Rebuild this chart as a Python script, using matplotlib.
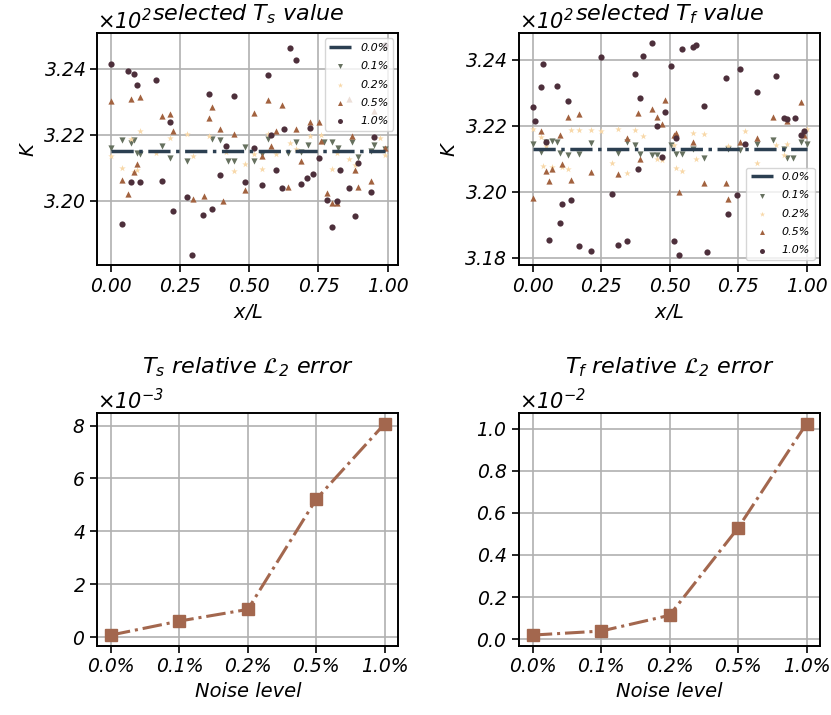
import matplotlib
matplotlib.use('Agg')
import matplotlib.pyplot as plt

plt.rcParams['font.family'] = ['DejaVu Sans']
plt.rcParams['font.style'] = 'italic'
plt.rcParams['mathtext.fontset'] = 'dejavusans'
plt.rcParams['mathtext.default'] = 'it'

# noise levels and errors
niveles = ["0.0%", "0.1%", "0.2%", "0.5%", "1.0%"]
err_Ts = [0.08e-3, 0.61e-3, 1.05e-3, 5.22e-3, 8.07e-3]
err_Tf = [0.019e-2, 0.038e-2, 0.113e-2, 0.528e-2, 1.024e-2]

# selected Ts (K), reference value without noise
Ts_ref_x = [0.0, 0.04, 0.104, 0.213, 0.295, 0.395, 0.486, 0.598, 0.688, 0.8, 0.892, 0.99]
Ts_ref_y = [321.51] * len(Ts_ref_x)

Ts_01_x = [0.0, 0.04, 0.072, 0.082, 0.093, 0.104, 0.183, 0.213, 0.276, 0.365, 0.395, 0.424, 0.446, 0.486,
           0.518, 0.547, 0.567, 0.639, 0.669, 0.688, 0.711, 0.77, 0.8, 0.82, 0.87, 0.892, 0.941, 0.952, 0.99]
Ts_01_y = [321.61, 321.83, 321.76, 321.84, 321.44, 321.43, 321.66, 321.31, 321.21, 321.88, 321.83, 321.21,
           321.21, 321.62, 321.20, 321.42, 321.86, 321.46, 321.79, 321.48, 321.69, 321.79, 321.79, 321.61,
           321.78, 321.32, 321.52, 321.70, 321.56]

Ts_02_x = [0.0, 0.04, 0.072, 0.082, 0.093, 0.104, 0.164, 0.213, 0.276, 0.295, 0.355, 0.416, 0.446, 0.486,
           0.518, 0.547, 0.567, 0.598, 0.648, 0.669, 0.719, 0.759, 0.8, 0.819, 0.861, 0.882, 0.971, 0.99]
Ts_02_y = [321.36, 320.99, 321.86, 320.88, 320.92, 322.10, 321.44, 321.91, 322.01, 321.36, 321.96, 321.48,
           320.90, 321.11, 321.42, 320.97, 322.03, 321.41, 321.76, 321.56, 321.96, 321.98, 320.97, 321.46,
           321.26, 321.08, 321.90, 321.38]

Ts_05_x = [0.0, 0.04, 0.061, 0.071, 0.082, 0.093, 0.104, 0.183, 0.213, 0.223, 0.295, 0.335, 0.355, 0.365,
           0.395, 0.406, 0.446, 0.486, 0.517, 0.547, 0.567, 0.578, 0.598, 0.618, 0.639, 0.669, 0.688, 0.719,
           0.751, 0.759, 0.781, 0.8, 0.819, 0.861, 0.87, 0.882, 0.892, 0.941, 0.952, 0.99]
Ts_05_y = [323.02, 320.62, 320.22, 323.07, 320.86, 321.11, 323.14, 322.56, 322.64, 322.12, 320.07, 320.16,
           322.52, 322.83, 322.18, 320.00, 322.03, 320.34, 322.66, 321.36, 323.04, 321.66, 322.11, 322.90,
           320.42, 322.16, 321.22, 322.40, 322.39, 321.81, 320.25, 319.93, 319.93, 323.09, 321.97, 320.92,
           320.42, 320.59, 322.73, 321.60]

Ts_10_x = [0.0, 0.04, 0.063, 0.071, 0.082, 0.093, 0.104, 0.164, 0.183, 0.213, 0.223, 0.276, 0.294, 0.334,
           0.354, 0.365, 0.395, 0.416, 0.446, 0.486, 0.518, 0.547, 0.567, 0.578, 0.596, 0.619, 0.627, 0.648,
           0.67, 0.687, 0.71, 0.719, 0.729, 0.751, 0.781, 0.8, 0.819, 0.829, 0.861, 0.882, 0.892, 0.941,
           0.952, 0.99]
Ts_10_y = [324.15, 319.30, 323.94, 320.56, 323.83, 323.49, 320.58, 323.67, 320.59, 322.39, 319.71, 320.11,
           318.36, 319.58, 323.22, 319.75, 320.77, 321.66, 323.17, 320.56, 321.60, 320.47, 323.81, 321.98,
           320.92, 320.38, 322.18, 324.61, 324.26, 320.50, 320.69, 322.19, 320.81, 321.31, 320.04, 319.21,
           319.99, 320.92, 320.38, 319.54, 321.16, 320.27, 321.93, 324.72]

# selected Tf (K)
Tf_ref_x = [0.0, 0.049, 0.1, 0.212, 0.313, 0.404, 0.505, 0.595, 0.706, 0.818, 0.918, 1.0]
Tf_ref_y = [321.29] * len(Tf_ref_x)

Tf_01_x = [0.0, 0.029, 0.049, 0.069, 0.09, 0.1, 0.13, 0.17, 0.212, 0.313, 0.343, 0.373, 0.393, 0.434, 0.454,
           0.505, 0.524, 0.545, 0.584, 0.625, 0.715, 0.757, 0.818, 0.878, 0.918, 0.928, 0.949, 0.979, 1.0]
Tf_01_y = [321.46, 321.21, 321.50, 321.54, 321.50, 321.17, 321.11, 321.14, 321.49, 321.19, 321.52, 321.41,
           321.16, 321.11, 321.11, 321.41, 321.16, 321.16, 321.29, 321.03, 321.31, 321.26, 321.46, 321.56,
           321.31, 321.03, 321.03, 321.52, 321.46]

Tf_02_x = [0.0, 0.029, 0.039, 0.049, 0.069, 0.108, 0.13, 0.14, 0.17, 0.212, 0.251, 0.291, 0.313, 0.343,
           0.373, 0.404, 0.454, 0.473, 0.515, 0.524, 0.545, 0.584, 0.595, 0.625, 0.715, 0.777, 0.818, 0.888,
           0.918, 0.928, 1.0]
Tf_02_y = [321.92, 321.67, 320.79, 321.38, 320.76, 320.76, 320.68, 321.88, 321.89, 321.89, 321.84, 320.88,
           321.92, 320.58, 321.87, 321.68, 320.99, 320.96, 321.41, 320.72, 320.63, 321.80, 321.01, 321.75,
           321.39, 321.86, 320.89, 321.41, 321.11, 321.46, 321.92]

Tf_05_x = [0.0, 0.029, 0.049, 0.06, 0.069, 0.1, 0.108, 0.13, 0.14, 0.17, 0.212, 0.313, 0.343, 0.383, 0.393,
           0.434, 0.454, 0.473, 0.484, 0.515, 0.524, 0.534, 0.584, 0.625, 0.706, 0.715, 0.757, 0.818, 0.878,
           0.928, 0.979, 0.99]
Tf_05_y = [319.81, 321.84, 320.63, 320.32, 320.68, 321.72, 320.85, 322.28, 320.35, 322.35, 320.60, 320.55,
           321.62, 322.38, 321.01, 322.50, 322.28, 322.07, 322.78, 321.72, 321.80, 319.99, 321.52, 320.28,
           320.28, 319.79, 321.50, 321.62, 322.28, 322.14, 322.71, 321.72]

Tf_10_x = [0.0, 0.009, 0.029, 0.038, 0.049, 0.06, 0.09, 0.1, 0.108, 0.13, 0.14, 0.17, 0.212, 0.251, 0.291,
           0.313, 0.343, 0.373, 0.383, 0.393, 0.404, 0.434, 0.454, 0.473, 0.484, 0.505, 0.515, 0.524, 0.534,
           0.545, 0.584, 0.595, 0.625, 0.635, 0.706, 0.715, 0.747, 0.757, 0.777, 0.818, 0.888, 0.918, 0.928,
           0.959, 0.979, 0.99]
Tf_10_y = [322.58, 322.15, 323.18, 323.87, 321.50, 318.55, 323.21, 319.06, 319.62, 322.75, 319.76, 318.36,
           318.21, 324.10, 319.94, 318.40, 318.52, 323.56, 320.70, 322.85, 324.12, 324.50, 322.00, 321.06,
           322.42, 323.81, 318.51, 321.63, 318.09, 324.32, 324.38, 324.45, 322.60, 318.19, 323.46, 319.34,
           319.91, 323.74, 321.44, 323.04, 323.52, 322.23, 322.21, 322.23, 321.72, 321.84]

c_ref = '#2b3f51'
c_01 = '#66715f'
c_02 = '#f8d8a8'
c_05 = '#a2623f'
c_10 = '#4d2f3b'
c_err = '#a3674e'

TAM_TICK = 13.5
TAM_OFFSET = 15


def panel_valores(ax, ref, series, titulo, loc_leyenda):
    ax.plot(ref[0], ref[1], linestyle='-.', color=c_ref, linewidth=2.5, label='0.0%', zorder=3)
    for (x, y), m, c, lab, s in zip(series, ['v', '*', '^', 'o'], [c_01, c_02, c_05, c_10],
                                    ['0.1%', '0.2%', '0.5%', '1.0%'], [20, 24, 20, 20]):
        ax.scatter(x, y, marker=m, color=c, s=s, linewidths=0, label=lab, zorder=2)
    ax.set_title(titulo, fontsize=16, y=1.0, pad=9)
    ax.set_xlabel("$x/L$", fontsize=14)
    ax.set_ylabel("$K$", fontsize=14)
    ax.set_xticks([0, 0.25, 0.5, 0.75, 1.0])
    ax.ticklabel_format(axis='y', style='sci', scilimits=(0, 0), useMathText=True, useOffset=False)
    ax.yaxis.get_offset_text().set_fontsize(TAM_OFFSET)
    ax.grid(True, color='#b0b0b0', linewidth=1.2)
    ax.set_axisbelow(True)
    ax.legend(loc=loc_leyenda, fontsize=8, markerscale=0.8, handlelength=2.0,
              labelspacing=0.75, borderpad=0.4)


def panel_error(ax, err, titulo):
    ax.plot(range(len(niveles)), err, linestyle='-.', marker='s', markersize=9,
            color=c_err, linewidth=2.2)
    ax.set_xticks(range(len(niveles)))
    ax.set_xticklabels(niveles)
    ax.set_title(titulo, fontsize=16, pad=10)
    ax.set_xlabel("Noise level", fontsize=14)
    ax.ticklabel_format(axis='y', style='sci', scilimits=(0, 0), useMathText=True)
    ax.yaxis.get_offset_text().set_fontsize(TAM_OFFSET)
    ax.grid(True, color='#b0b0b0', linewidth=1.2)
    ax.set_axisbelow(True)


def main():
    fig, axs = plt.subplots(2, 2, figsize=(8.31, 7.15), dpi=100)
    fig.subplots_adjust(left=0.117, right=0.987, top=0.954, bottom=0.097, wspace=0.40, hspace=0.635)

    panel_valores(axs[0, 0], (Ts_ref_x, Ts_ref_y),
                  [(Ts_01_x, Ts_01_y), (Ts_02_x, Ts_02_y), (Ts_05_x, Ts_05_y), (Ts_10_x, Ts_10_y)],
                  "selected $T_s$ value", 'upper right')
    axs[0, 0].set_ylim(318.05, 325.08)
    panel_valores(axs[0, 1], (Tf_ref_x, Tf_ref_y),
                  [(Tf_01_x, Tf_01_y), (Tf_02_x, Tf_02_y), (Tf_05_x, Tf_05_y), (Tf_10_x, Tf_10_y)],
                  "selected $T_f$ value", 'lower right')

    panel_error(axs[1, 0], err_Ts, r"$T_s$ relative $\mathcal{L}_2$ error")
    panel_error(axs[1, 1], err_Tf, r"$T_f$ relative $\mathcal{L}_2$ error")

    for ax in axs.flat:
        ax.tick_params(labelsize=TAM_TICK, width=1.2, length=5)
        for sp in ax.spines.values():
            sp.set_linewidth(1.4)

    fig.savefig("out.png", dpi=100)


if __name__ == "__main__":
    main()
